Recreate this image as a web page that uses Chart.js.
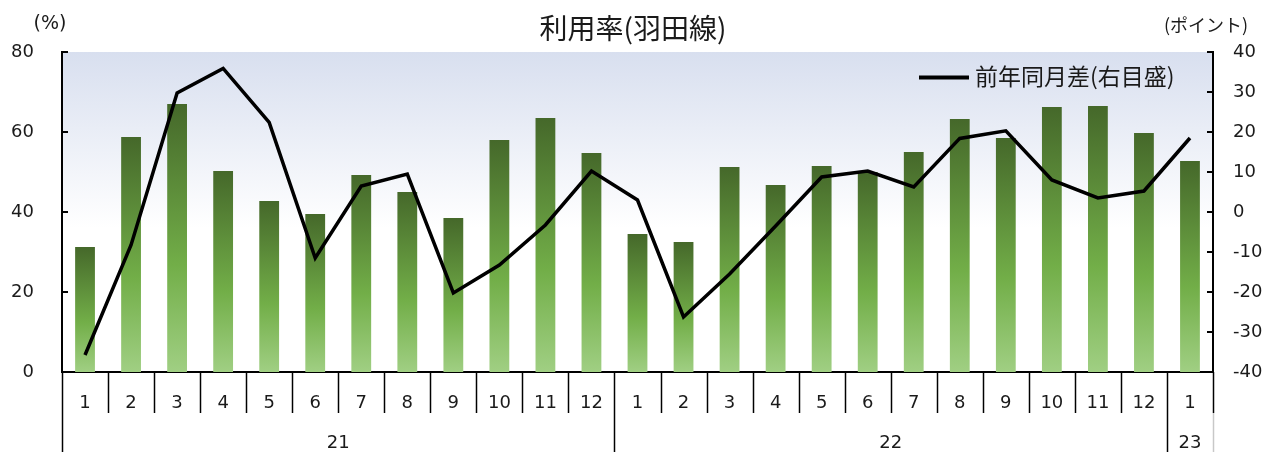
<!DOCTYPE html>
<html>
<head>
<meta charset="utf-8">
<script src="https://cdn.jsdelivr.net/npm/chart.js@4.4.0/dist/chart.umd.min.js"></script>
<style>
  html, body { margin: 0; padding: 0; background: #fff; }
  #wrap { width: 1268px; height: 452px; }
</style>
</head>
<body>
<div id="wrap"><canvas id="chart" width="1268" height="452"></canvas></div>
<script>
// data
const months = ['1', '2', '3', '4', '5', '6', '7', '8', '9', '10', '11', '12',
                '1', '2', '3', '4', '5', '6', '7', '8', '9', '10', '11', '12', '1'];
const yearLabels = ['21', '22', '23'];
const yearStarts = [0, 12, 24];
const usageRate = [31.25, 58.75, 67, 50.25, 42.75, 39.5, 49.25, 45, 38.5, 58, 63.5, 54.75,
                   34.5, 32.5, 51.25, 46.75, 51.5, 50, 55, 63.25, 58.5, 66.25, 66.5, 59.75, 52.75];
const yoyDiff = [-35.75, -8.25, 29.75, 35.9, 22.4, -11.5, 6.5, 9.5, -20.25, -13.25, -3.25, 10.25,
                 3, -26.25, -15.5, -3.5, 8.75, 10.25, 6.25, 18.4, 20.3, 8, 3.5, 5.25, 18.5];
const leftTicks = [0, 20, 40, 60, 80];
const rightTicks = [-40, -30, -20, -10, 0, 10, 20, 30, 40];

const titleText = '利用率(羽田線)';
const leftUnit = '(%)';
const rightUnit = '(ポイント)';
const legendText = '前年同月差(右目盛)';

const numFont = '"DejaVu Sans", "Noto Sans CJK JP", sans-serif';
const jpFont = '"Noto Sans CJK JP", "DejaVu Sans", sans-serif';

function barGradient(ctx) {
    const chart = ctx.chart;
    if (!chart.chartArea || ctx.type !== 'data') return '#70ad47';
    const yScale = chart.scales.y;
    const top = yScale.getPixelForValue(usageRate[ctx.dataIndex]);
    const bottom = yScale.getPixelForValue(0);
    const g = chart.ctx.createLinearGradient(0, top, 0, bottom);
    g.addColorStop(0, '#45682a');
    g.addColorStop(0.6, '#72ae48');
    g.addColorStop(1, '#a0cf83');
    return g;
}

const decorations = {
    id: 'decorations',
    beforeDraw(chart) {
        const { ctx, chartArea: a } = chart;
        ctx.save();
        ctx.fillStyle = '#fff';
        ctx.fillRect(0, 0, chart.width, chart.height);
        // plot area background: pale blue fading to white
        const g = ctx.createLinearGradient(0, a.top, 0, a.top + a.height * 0.55);
        g.addColorStop(0, '#d8dfef');
        g.addColorStop(1, '#ffffff');
        ctx.fillStyle = g;
        ctx.fillRect(a.left, a.top, a.right - a.left, a.bottom - a.top);
        ctx.restore();
    },
    afterDraw(chart) {
        const { ctx, chartArea: a } = chart;
        const x = chart.scales.x;
        const y = chart.scales.y;
        const y1 = chart.scales.y1;
        const step = (a.right - a.left) / months.length;
        ctx.save();

        // inner tick marks on both value axes
        ctx.strokeStyle = '#000';
        ctx.lineWidth = 2;
        leftTicks.forEach(v => {
            const py = Math.round(y.getPixelForValue(v));
            ctx.beginPath();
            ctx.moveTo(a.left, py);
            ctx.lineTo(a.left + 6, py);
            ctx.stroke();
        });
        rightTicks.forEach(v => {
            const py = Math.round(y1.getPixelForValue(v));
            ctx.beginPath();
            ctx.moveTo(a.right, py);
            ctx.lineTo(a.right - 6, py);
            ctx.stroke();
        });

        // month separators and year separators under the axis
        ctx.lineWidth = 1.5;
        for (let i = 0; i <= months.length; i++) {
            const px = Math.round(x.getPixelForValue(i) - step / 2) + 0.5;
            const isYear = yearStarts.includes(i);
            if (i === months.length) {
                ctx.strokeStyle = '#000';
                ctx.beginPath();
                ctx.moveTo(px, a.bottom);
                ctx.lineTo(px, a.bottom + 41);
                ctx.stroke();
                ctx.strokeStyle = '#c8c8c8';
                ctx.beginPath();
                ctx.moveTo(px, a.bottom + 41);
                ctx.lineTo(px, chart.height);
                ctx.stroke();
                continue;
            }
            ctx.strokeStyle = '#000';
            ctx.beginPath();
            ctx.moveTo(px, a.bottom);
            ctx.lineTo(px, isYear ? chart.height : a.bottom + 41);
            ctx.stroke();
        }

        // year labels centered on their group
        ctx.fillStyle = '#1a1a1a';
        ctx.font = '18px ' + numFont;
        ctx.textAlign = 'center';
        ctx.textBaseline = 'middle';
        yearLabels.forEach((lab, k) => {
            const s = yearStarts[k];
            const e = k + 1 < yearStarts.length ? yearStarts[k + 1] : months.length;
            const left = x.getPixelForValue(s) - step / 2;
            const right = x.getPixelForValue(e - 1) + step / 2;
            ctx.fillText(lab, (left + right) / 2, 443);
        });

        // title and unit labels
        ctx.font = '28px ' + jpFont;
        ctx.fillText(titleText, 633, 28);
        ctx.font = '19px ' + numFont;
        ctx.fillText(leftUnit, 50, 24);
        ctx.font = '18px ' + jpFont;
        ctx.fillText(rightUnit, 1206, 25);

        // legend inside the plot
        ctx.strokeStyle = '#000';
        ctx.lineWidth = 4;
        ctx.beginPath();
        ctx.moveTo(919, 77.5);
        ctx.lineTo(969, 77.5);
        ctx.stroke();
        ctx.font = '23px ' + jpFont;
        ctx.textAlign = 'left';
        ctx.fillText(legendText, 975, 76);

        ctx.restore();
    }
};

new Chart(document.getElementById('chart'), {
    data: {
        labels: months,
        datasets: [
            {
                type: 'line',
                label: legendText,
                data: yoyDiff,
                yAxisID: 'y1',
                borderColor: '#000',
                borderWidth: 3.5,
                pointRadius: 0,
                tension: 0,
                order: 0
            },
            {
                type: 'bar',
                label: titleText,
                data: usageRate,
                yAxisID: 'y',
                backgroundColor: barGradient,
                categoryPercentage: 1,
                barPercentage: 0.43,
                order: 1
            }
        ]
    },
    options: {
        responsive: false,
        animation: false,
        layout: { padding: { top: 52, left: 0, right: 0, bottom: 0 } },
        plugins: {
            legend: { display: false },
            title: { display: false },
            tooltip: { enabled: false }
        },
        scales: {
            x: {
                offset: true,
                grid: { display: false, drawTicks: false },
                border: { display: true, color: '#000', width: 2 },
                ticks: {
                    font: { size: 18, family: numFont },
                    color: '#1a1a1a',
                    padding: 21,
                    maxRotation: 0,
                    autoSkip: false
                },
                afterFit(scale) { scale.height = 80; }
            },
            y: {
                position: 'left',
                min: 0,
                max: 80,
                grid: { display: false, drawTicks: false },
                border: { display: true, color: '#000', width: 2 },
                ticks: {
                    stepSize: 20,
                    font: { size: 18, family: numFont },
                    color: '#1a1a1a',
                    padding: 28
                },
                afterFit(scale) { scale.width = 62; }
            },
            y1: {
                position: 'right',
                min: -40,
                max: 40,
                grid: { display: false, drawTicks: false },
                border: { display: true, color: '#000', width: 2 },
                ticks: {
                    stepSize: 10,
                    font: { size: 18, family: numFont },
                    color: '#1a1a1a',
                    padding: 20
                },
                afterFit(scale) { scale.width = 55; }
            }
        }
    },
    plugins: [decorations]
});
</script>
</body>
</html>
